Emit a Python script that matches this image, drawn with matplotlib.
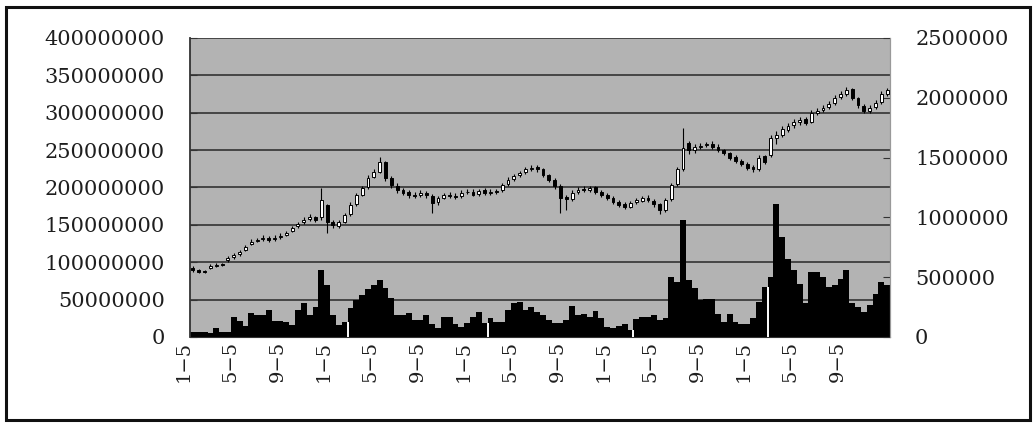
import numpy as np
import matplotlib
matplotlib.use('Agg')
import matplotlib.pyplot as plt
import matplotlib.transforms as mtransforms
from matplotlib.patches import Rectangle

# half-monthly periods over five years
volume_m = [7, 7, 7, 5, 12, 6, 6, 27, 22, 14,
            32, 29, 29, 36, 22, 22, 20, 16, 36, 46,
            29, 40, 89, 70, 29, 16, 20, 39, 49, 56,
            64, 70, 76, 65, 52, 29, 30, 32, 23, 23,
            29, 17, 12, 27, 27, 17, 13, 19, 27, 33,
            19, 25, 20, 20, 36, 45, 47, 36, 40, 33,
            29, 23, 19, 19, 23, 41, 29, 31, 27, 35,
            25, 13, 12, 15, 17, 9, 24, 27, 27, 29,
            23, 25, 80, 74, 156, 76, 65, 50, 51, 51,
            31, 20, 31, 20, 17, 17, 25, 47, 67, 80,
            178, 134, 104, 90, 71, 45, 87, 87, 80, 67,
            70, 77, 89, 45, 40, 33, 43, 57, 73, 69]

# prices in thousands
open_k = [575, 560, 550, 580, 595, 605, 640, 665, 690, 730,
          780, 800, 815, 830, 815, 835, 855, 890, 925, 960,
          985, 1000, 1000, 1100, 960, 930, 965, 1030, 1110, 1190,
          1250, 1340, 1380, 1460, 1330, 1265, 1225, 1210, 1190, 1185,
          1200, 1180, 1125, 1165, 1190, 1180, 1175, 1210, 1215, 1195,
          1225, 1200, 1220, 1225, 1275, 1320, 1350, 1375, 1400, 1420,
          1400, 1350, 1310, 1260, 1170, 1150, 1210, 1240, 1230, 1250,
          1215, 1190, 1160, 1130, 1110, 1090, 1125, 1140, 1165, 1140,
          1110, 1060, 1150, 1275, 1400, 1620, 1560, 1585, 1605, 1615,
          1590, 1560, 1535, 1505, 1470, 1450, 1420, 1400, 1510, 1520,
          1660, 1690, 1730, 1770, 1795, 1820, 1800, 1870, 1895, 1920,
          1955, 2005, 2030, 2070, 1995, 1930, 1890, 1920, 1965, 2030]
high_k = [590, 570, 560, 610, 615, 620, 675, 700, 730, 770,
          815, 830, 850, 845, 850, 865, 890, 930, 965, 1000,
          1030, 1015, 1245, 1110, 975, 980, 1040, 1125, 1205, 1265,
          1350, 1400, 1505, 1470, 1345, 1285, 1245, 1230, 1210, 1225,
          1220, 1195, 1180, 1205, 1210, 1200, 1225, 1235, 1235, 1240,
          1245, 1235, 1240, 1290, 1335, 1365, 1390, 1420, 1440, 1435,
          1415, 1365, 1325, 1275, 1190, 1225, 1250, 1260, 1265, 1265,
          1230, 1205, 1175, 1145, 1125, 1140, 1165, 1180, 1185, 1155,
          1120, 1165, 1290, 1420, 1750, 1640, 1610, 1620, 1630, 1635,
          1610, 1575, 1550, 1520, 1490, 1465, 1435, 1520, 1525, 1685,
          1720, 1760, 1790, 1825, 1840, 1840, 1895, 1910, 1935, 1970,
          2020, 2055, 2090, 2085, 2010, 1945, 1935, 1980, 2055, 2085]
low_k = [545, 535, 535, 570, 585, 590, 630, 655, 680, 715,
         765, 790, 800, 795, 805, 820, 840, 875, 910, 945,
         970, 960, 980, 870, 915, 915, 950, 1015, 1095, 1175,
         1235, 1325, 1370, 1300, 1245, 1205, 1185, 1165, 1160, 1170,
         1165, 1040, 1105, 1150, 1160, 1150, 1160, 1195, 1175, 1180,
         1190, 1185, 1195, 1210, 1260, 1305, 1335, 1360, 1385, 1380,
         1335, 1295, 1240, 1040, 1060, 1135, 1195, 1215, 1215, 1195,
         1170, 1145, 1110, 1085, 1070, 1075, 1110, 1125, 1125, 1090,
         1030, 1045, 1135, 1260, 1385, 1530, 1540, 1570, 1585, 1570,
         1545, 1520, 1480, 1455, 1430, 1395, 1380, 1385, 1445, 1505,
         1610, 1670, 1710, 1750, 1775, 1770, 1785, 1855, 1880, 1905,
         1940, 1990, 2015, 1985, 1915, 1870, 1875, 1905, 1950, 2015]
close_k = [560, 545, 545, 595, 600, 600, 660, 685, 710, 750,
           795, 810, 830, 810, 830, 845, 870, 910, 945, 980,
           1005, 980, 1145, 960, 935, 960, 1020, 1105, 1185, 1245,
           1330, 1380, 1465, 1330, 1270, 1230, 1205, 1185, 1180, 1205,
           1185, 1120, 1160, 1185, 1180, 1170, 1205, 1215, 1190, 1220,
           1205, 1215, 1215, 1270, 1315, 1345, 1370, 1400, 1415, 1400,
           1355, 1315, 1265, 1165, 1150, 1205, 1230, 1230, 1245, 1215,
           1190, 1165, 1130, 1105, 1090, 1120, 1145, 1160, 1145, 1110,
           1060, 1145, 1270, 1400, 1580, 1565, 1590, 1600, 1610, 1590,
           1565, 1540, 1500, 1475, 1450, 1415, 1400, 1500, 1460, 1665,
           1685, 1735, 1765, 1800, 1815, 1790, 1875, 1890, 1915, 1950,
           2000, 2035, 2065, 2000, 1935, 1890, 1915, 1960, 2035, 2065]

# periods after which the volume series breaks (new fiscal year)
year_breaks = [26, 50, 75, 98]

tick_labels = ['1\u22125', '5\u22125', '9\u22125'] * 5
tick_step = 8

vol_ticks = [0, 50000000, 100000000, 150000000, 200000000,
             250000000, 300000000, 350000000, 400000000]
price_ticks = [0, 500000, 1000000, 1500000, 2000000, 2500000]

plt.rcParams['font.family'] = ['DejaVu Serif']
text_color = '#1e1e1e'
bg_gray = '#b3b3b3'

vol = np.array(volume_m) * 1e6
o = np.array(open_k) * 1e3
h = np.array(high_k) * 1e3
l = np.array(low_k) * 1e3
c = np.array(close_k) * 1e3
x = np.arange(len(vol))

fig = plt.figure(figsize=(10.35, 4.26), dpi=100)
fig.patch.set_facecolor('white')
ax = fig.add_axes([0.1836, 0.209, 0.6764, 0.702])
ax.set_facecolor(bg_gray)

# volume (left axis)
ax.bar(x, vol, width=1.0, color='black', linewidth=0, zorder=2)
for b in year_breaks:
    ax.vlines(b + 0.5, 0, min(vol[b], vol[b + 1]), color='white', lw=1.4, zorder=3)

ax.set_ylim(0, 400000000)
ax.set_yticks(vol_ticks)
ax.set_yticklabels([str(t) for t in vol_ticks])
ax.set_xlim(-0.5, len(vol) - 0.5)
ax.grid(axis='y', color='#333333', lw=1.2)
ax.set_axisbelow(True)
ax.tick_params(axis='y', direction='in', length=5, pad=18, labelsize=15,
               labelcolor=text_color, color='#333333')

ax.set_xticks(x[::tick_step])
ax.set_xticklabels(tick_labels, rotation=90, fontsize=14)
ax.tick_params(axis='x', length=0, pad=3, labelcolor=text_color)
shift = mtransforms.ScaledTranslation(-9 / 100, 0, fig.dpi_scale_trans)
for lab in ax.get_xticklabels():
    lab.set_transform(lab.get_transform() + shift)

ax.spines['top'].set_visible(False)
ax.spines['left'].set_color('#333333')
ax.spines['left'].set_linewidth(1.3)
ax.spines['bottom'].set_color('#333333')
ax.spines['right'].set_color('#999999')

# candlesticks (right axis)
ax2 = ax.twinx()
ax2.set_ylim(0, 2500000)
up = c >= o
ax2.vlines(x, l, h, color='black', lw=0.8, zorder=3)
body = np.maximum(np.abs(c - o), 6000)
ax2.bar(x[up], body[up], bottom=o[up], width=0.5, color='white',
        edgecolor='black', linewidth=0.7, zorder=4)
ax2.bar(x[~up], body[~up], bottom=c[~up], width=0.5, color='black',
        edgecolor='black', linewidth=0.7, zorder=4)
ax2.set_yticks(price_ticks)
ax2.set_yticklabels([str(t) for t in price_ticks])
ax2.tick_params(axis='y', direction='in', length=5, pad=18, labelsize=15,
                labelcolor=text_color, color='#333333')
for side in ['top', 'left', 'bottom']:
    ax2.spines[side].set_visible(False)
ax2.spines['right'].set_color('#999999')

# outer frame
fig.patches.append(Rectangle((6 / 1035, 6 / 426), 1024 / 1035, 413 / 426,
                             transform=fig.transFigure, fill=False,
                             edgecolor='#111111', lw=2.2))

fig.savefig('out.png', dpi=100, facecolor='white')
